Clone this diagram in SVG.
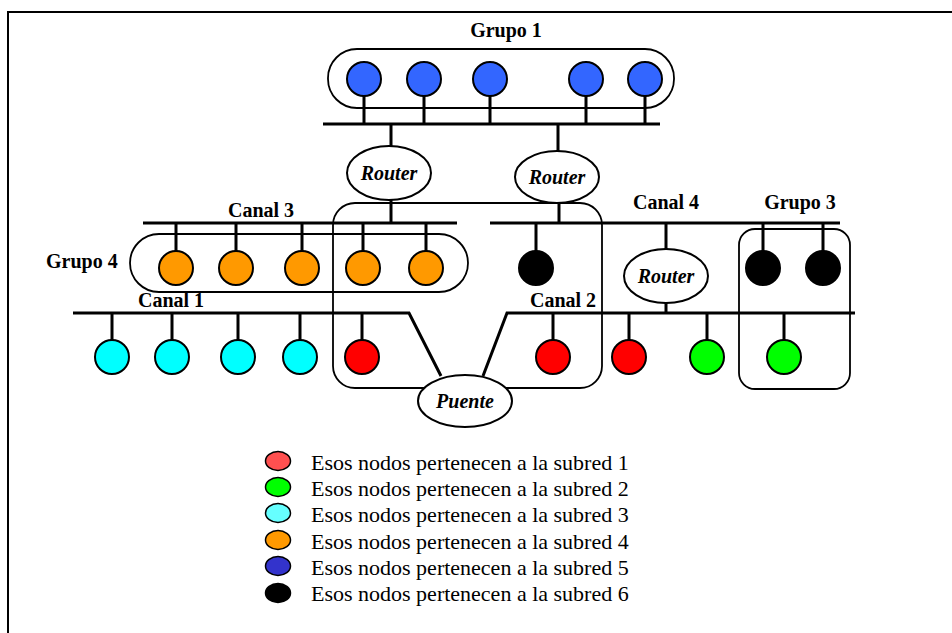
<svg xmlns="http://www.w3.org/2000/svg" width="952" height="633" viewBox="0 0 952 633">
  <style>
    .frame { fill: none; stroke: #000; stroke-width: 2; }
    .bus { fill: none; stroke: #000; stroke-width: 3; }
    .stem { fill: none; stroke: #000; stroke-width: 3; }
    .group { fill: none; stroke: #000; stroke-width: 1.8; }
    .host { stroke: #000; stroke-width: 2; }
    .dev { fill: #fff; stroke: #000; stroke-width: 2; }
    .label { font-family: "Liberation Serif", "Times New Roman", serif; font-size: 20px; font-weight: bold; fill: #000; }
    .devlabel { font-family: "Liberation Serif", "Times New Roman", serif; font-size: 20px; font-weight: bold; font-style: italic; fill: #000; text-anchor: middle; }
    .key { stroke: #000; stroke-width: 1.5; }
    .keytext { font-family: "Liberation Serif", "Times New Roman", serif; font-size: 22px; fill: #000; }
    .s1 { fill: #ff0000; } .s2 { fill: #00ff00; } .s3 { fill: #00ffff; }
    .s4 { fill: #ff9900; } .s5 { fill: #3366ff; } .s6 { fill: #000000; }
  </style>

  <rect width="952" height="633" fill="#fff"/>
  <!-- outer frame (runs off the right and bottom edges) -->
  <path class="frame" d="M8,640 V12 H960"/>

  <!-- group outlines -->
  <g id="grupo1">
    <rect class="group" x="328" y="49" width="346" height="59" rx="29"/>
    <text class="label" x="506" y="37" text-anchor="middle">Grupo 1</text>
  </g>
  <g id="grupo4">
    <rect class="group" x="130" y="234" width="338" height="58" rx="29"/>
    <text class="label" x="46" y="268">Grupo 4</text>
  </g>
  <g id="grupo-router2">
    <rect class="group" x="333" y="203" width="269" height="185" rx="22"/>
  </g>
  <g id="grupo3">
    <rect class="group" x="739" y="229" width="111" height="160" rx="16"/>
    <text class="label" x="800" y="209" text-anchor="middle">Grupo 3</text>
  </g>

  <!-- buses and drop lines -->
  <g id="connectors">
    <!-- backbone of Grupo 1 -->
    <line class="bus" x1="323" y1="124" x2="660" y2="124"/>
    <path class="stem" d="M364,96 V124 M424,96 V124 M490,96 V124 M586,96 V124 M645,96 V124"/>
    <path class="stem" d="M391,124 V146 M558,124 V152"/>
    <!-- Canal 3 -->
    <line class="bus" x1="143" y1="223" x2="457" y2="223"/>
    <path class="stem" d="M391,200 V223"/>
    <path class="stem" d="M176,223 V251 M236,223 V251 M302,223 V251 M363,223 V251 M426,223 V251"/>
    <!-- Canal 4 -->
    <line class="bus" x1="490" y1="223" x2="840" y2="223"/>
    <path class="stem" d="M559,203 V223"/>
    <path class="stem" d="M536,223 V251 M763,223 V251 M823,223 V251"/>
    <path class="stem" d="M666,223 V249 M666,303 V313"/>
    <!-- Canal 1 -->
    <path class="bus" d="M73,313 H409 L441,376"/>
    <path class="stem" d="M112,313 V340 M172,313 V340 M238,313 V340 M300,313 V340 M362,313 V340"/>
    <!-- Canal 2 -->
    <path class="bus" d="M483,376 L507,313 H855"/>
    <path class="stem" d="M553,313 V340 M629,313 V340 M707,313 V340 M784,313 V340"/>
  </g>

  <!-- hosts -->
  <g id="hosts-grupo1">
    <circle class="host s5" cx="364" cy="79" r="17"/>
    <circle class="host s5" cx="424" cy="79" r="17"/>
    <circle class="host s5" cx="490" cy="79" r="17"/>
    <circle class="host s5" cx="586" cy="79" r="17"/>
    <circle class="host s5" cx="645" cy="79" r="17"/>
  </g>
  <g id="hosts-canal3">
    <circle class="host s4" cx="176" cy="268" r="17"/>
    <circle class="host s4" cx="236" cy="268" r="17"/>
    <circle class="host s4" cx="302" cy="268" r="17"/>
    <circle class="host s4" cx="363" cy="268" r="17"/>
    <circle class="host s4" cx="426" cy="268" r="17"/>
  </g>
  <g id="hosts-canal4">
    <circle class="host s6" cx="536" cy="268" r="17"/>
    <circle class="host s6" cx="763" cy="268" r="17"/>
    <circle class="host s6" cx="823" cy="268" r="17"/>
  </g>
  <g id="hosts-canal1">
    <circle class="host s3" cx="112" cy="357" r="17"/>
    <circle class="host s3" cx="172" cy="357" r="17"/>
    <circle class="host s3" cx="238" cy="357" r="17"/>
    <circle class="host s3" cx="300" cy="357" r="17"/>
    <circle class="host s1" cx="362" cy="357" r="17"/>
  </g>
  <g id="hosts-canal2">
    <circle class="host s1" cx="553" cy="357" r="17"/>
    <circle class="host s1" cx="629" cy="357" r="17"/>
    <circle class="host s2" cx="707" cy="357" r="17"/>
    <circle class="host s2" cx="784" cy="357" r="17"/>
  </g>

  <!-- interconnection devices -->
  <g id="router1">
    <ellipse class="dev" cx="389" cy="173" rx="42" ry="27"/>
    <text class="devlabel" x="389" y="180">Router</text>
  </g>
  <g id="router2">
    <ellipse class="dev" cx="557" cy="177" rx="42" ry="26"/>
    <text class="devlabel" x="557" y="184">Router</text>
  </g>
  <g id="router3">
    <ellipse class="dev" cx="666" cy="276" rx="42" ry="27"/>
    <text class="devlabel" x="666" y="283">Router</text>
  </g>
  <g id="puente">
    <ellipse class="dev" cx="465" cy="401" rx="47" ry="26"/>
    <text class="devlabel" x="465" y="408">Puente</text>
  </g>

  <!-- channel labels -->
  <g id="canales">
    <text class="label" x="261" y="217" text-anchor="middle">Canal 3</text>
    <text class="label" x="666" y="209" text-anchor="middle">Canal 4</text>
    <text class="label" x="171" y="307" text-anchor="middle">Canal 1</text>
    <text class="label" x="563" y="307" text-anchor="middle">Canal 2</text>
  </g>

  <!-- legend -->
  <g id="leyenda">
    <ellipse class="key" cx="278" cy="461" rx="12.5" ry="9.5" fill="#ff5050"/>
    <ellipse class="key" cx="278" cy="487" rx="12.5" ry="9.5" fill="#00ff00"/>
    <ellipse class="key" cx="278" cy="513" rx="12.5" ry="9.5" fill="#66ffff"/>
    <ellipse class="key" cx="278" cy="540" rx="12.5" ry="9.5" fill="#ff9900"/>
    <ellipse class="key" cx="278" cy="566" rx="12.5" ry="9.5" fill="#3333cc"/>
    <ellipse class="key" cx="278" cy="593" rx="12.5" ry="9.5" fill="#000000"/>
    <text class="keytext" x="311" y="470">Esos nodos pertenecen a la subred 1</text>
    <text class="keytext" x="311" y="496">Esos nodos pertenecen a la subred 2</text>
    <text class="keytext" x="311" y="522">Esos nodos pertenecen a la subred 3</text>
    <text class="keytext" x="311" y="549">Esos nodos pertenecen a la subred 4</text>
    <text class="keytext" x="311" y="575">Esos nodos pertenecen a la subred 5</text>
    <text class="keytext" x="311" y="601">Esos nodos pertenecen a la subred 6</text>
  </g>
</svg>
